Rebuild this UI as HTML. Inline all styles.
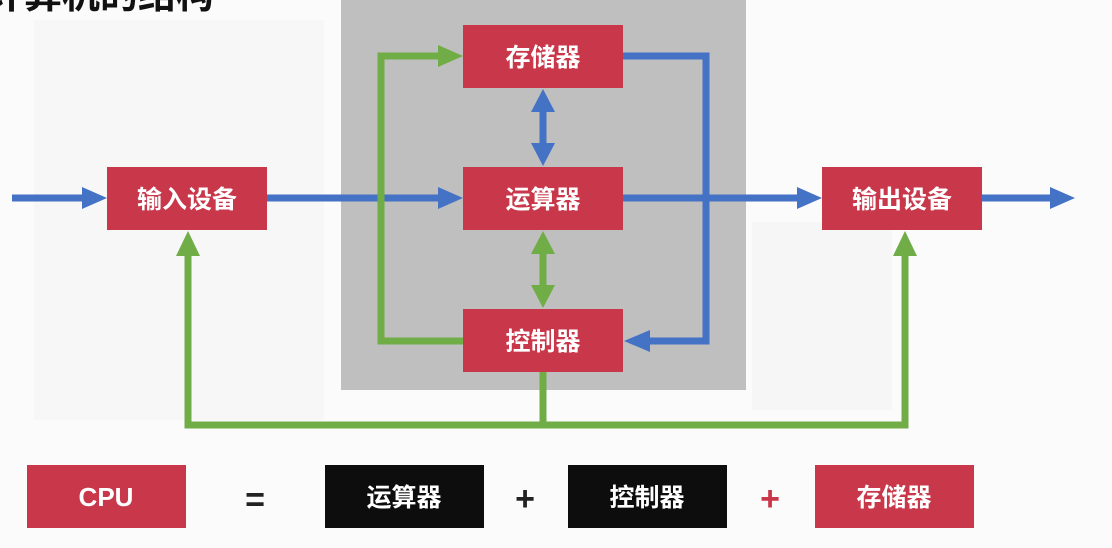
<!DOCTYPE html>
<html><head><meta charset="utf-8"><style>
html,body{margin:0;padding:0;background:#fafafa;}
svg{display:block;font-family:"Liberation Sans","Noto Sans CJK SC",sans-serif;}
</style></head><body>
<svg width="1112" height="548" viewBox="0 0 1112 548" xmlns="http://www.w3.org/2000/svg">
<rect width="1112" height="548" fill="#fbfbfb"/>
<rect x="34" y="20" width="290" height="400" fill="#f7f7f7"/>
<rect x="752" y="222" width="140" height="188" fill="#f6f6f6"/>
<text x="-14" y="8" font-size="38" font-weight="bold" fill="#111">计算机的结构</text>
<rect x="341" y="0" width="405" height="390" fill="#bfbfbf"/>

<g fill="none" stroke-width="7">
<polyline points="12,198 90,198" stroke="#4472c4"/>
<polyline points="267,198 445,198" stroke="#4472c4"/>
<polyline points="623,198 805,198" stroke="#4472c4"/>
<polyline points="982,198 1052,198" stroke="#4472c4"/>
<polyline points="623,56 706,56 706,341 650,341" stroke="#4472c4"/>
<line x1="543" y1="108" x2="543" y2="148" stroke="#4472c4"/>
<polyline points="463,341 381,341 381,56 445,56" stroke="#70ad47"/>
<line x1="543" y1="250" x2="543" y2="290" stroke="#70ad47"/>
<polyline points="543,372 543,425 188,425 188,250" stroke="#70ad47"/>
<polyline points="543,425 905,425 905,250" stroke="#70ad47"/>
</g>
<g fill="#4472c4">
<polygon points="82,187 107,198 82,209"/>
<polygon points="438,187 463,198 438,209"/>
<polygon points="797,187 822,198 797,209"/>
<polygon points="1050,187 1075,198 1050,209"/>
<polygon points="650,330 624,341 650,352"/>
<polygon points="531,112 543,89 555,112"/>
<polygon points="531,143 543,166 555,143"/>
</g>
<g fill="#70ad47">
<polygon points="438,45 463,56 438,67"/>
<polygon points="531,254 543,231 555,254"/>
<polygon points="531,285 543,308 555,285"/>
<polygon points="176,256 188,231 200,256"/>
<polygon points="893,256 905,231 917,256"/>
</g>

<g fill="#c8374a">
<rect x="463" y="25" width="160" height="63"/>
<rect x="463" y="167" width="160" height="63"/>
<rect x="463" y="309" width="160" height="63"/>
<rect x="107" y="167" width="160" height="63"/>
<rect x="822" y="167" width="160" height="63"/>
<rect x="27" y="465" width="159" height="63"/>
<rect x="815" y="465" width="159" height="63"/>
</g>
<rect x="325" y="465" width="159" height="63" fill="#0d0d0d"/>
<rect x="568" y="465" width="159" height="63" fill="#0d0d0d"/>

<g fill="#fff" font-size="25" font-weight="bold" text-anchor="middle">
<text x="543" y="66">存储器</text>
<text x="543" y="208">运算器</text>
<text x="543" y="350">控制器</text>
<text x="187" y="208">输入设备</text>
<text x="902" y="208">输出设备</text>
<text x="106" y="506" font-size="26">CPU</text>
<text x="404" y="506">运算器</text>
<text x="647" y="506">控制器</text>
<text x="894" y="506">存储器</text>
</g>
<text x="255" y="511" font-size="34" font-weight="bold" text-anchor="middle" fill="#222">=</text>
<text x="525" y="510" font-size="34" font-weight="bold" text-anchor="middle" fill="#222">+</text>
<text x="770" y="510" font-size="34" font-weight="bold" text-anchor="middle" fill="#c8374a">+</text>
</svg>
</body></html>
